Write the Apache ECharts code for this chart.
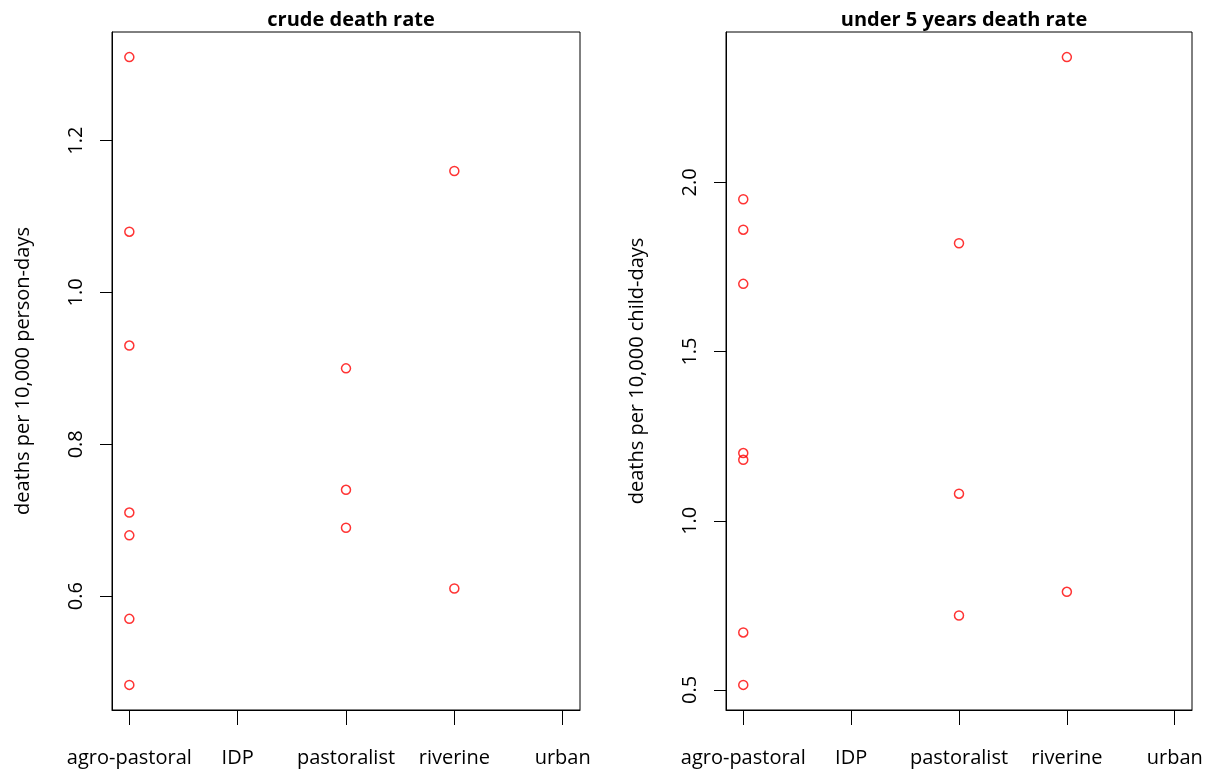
<!DOCTYPE html>
<html>
<head>
<meta charset="utf-8">
<script src="https://cdn.jsdelivr.net/npm/echarts@6/dist/echarts.min.js"></script>
<style>
  html, body { margin: 0; padding: 0; background: #fff; }
  #chart { width: 1211px; height: 771px; }
</style>
</head>
<body>
<div id="chart"></div>
<script>
// categories on the x axis (positions 1..5)
const categories = ['agro-pastoral', 'IDP', 'pastoralist', 'riverine', 'urban'];

// crude death rate, [category index, value]
const crudeRate = [
  [1, 1.31], [1, 1.08], [1, 0.93], [1, 0.71], [1, 0.68], [1, 0.57], [1, 0.483],
  [3, 0.90], [3, 0.74], [3, 0.69],
  [4, 1.16], [4, 0.61]
];
// under 5 years death rate
const under5Rate = [
  [1, 1.95], [1, 1.86], [1, 1.70], [1, 1.20], [1, 1.18], [1, 0.67], [1, 0.515],
  [3, 1.82], [3, 1.08], [3, 0.72],
  [4, 2.37], [4, 0.79]
];

const crudeTicks = [0.6, 0.8, 1.0, 1.2];
const under5Ticks = [0.5, 1.0, 1.5, 2.0];
const catTicks = [1, 2, 3, 4, 5];

const FONT = 'Open Sans';

// R style axis range: data range padded by 4% each side
function padRange(data) {
  let vals = data.map(function (d) { return d[1]; });
  let lo = Math.min.apply(null, vals), hi = Math.max.apply(null, vals);
  let pad = (hi - lo) * 0.04;
  return [lo - pad, hi + pad];
}

function makeX(idx) {
  return {
    gridIndex: idx,
    type: 'value',
    min: 0.84,
    max: 5.16,
    splitLine: { show: false },
    axisLine: { show: true, onZero: false, lineStyle: { color: '#000', width: 1 } },
    axisTick: { show: true, customValues: catTicks, length: 15, lineStyle: { color: '#000' } },
    axisLabel: {
      customValues: catTicks,
      margin: 38,
      color: '#000',
      fontFamily: FONT,
      fontSize: 20,
      formatter: function (v) { return categories[Math.round(v) - 1]; }
    }
  };
}

function makeY(idx, data, ticks, name) {
  let r = padRange(data);
  return {
    gridIndex: idx,
    type: 'value',
    min: r[0],
    max: r[1],
    name: name,
    nameLocation: 'middle',
    nameRotate: 90,
    nameGap: 79,
    nameTextStyle: { color: '#000', fontFamily: FONT, fontSize: 20 },
    splitLine: { show: false },
    axisLine: { show: true, onZero: false, lineStyle: { color: '#000', width: 1 } },
    axisTick: { show: true, customValues: ticks, length: 12, lineStyle: { color: '#000' } },
    axisLabel: {
      customValues: ticks,
      rotate: 90,
      margin: 26,
      color: '#000',
      fontFamily: FONT,
      fontSize: 20,
      formatter: function (v) { return v.toFixed(1); }
    }
  };
}

function makeSeries(idx, data) {
  return {
    type: 'scatter',
    xAxisIndex: idx,
    yAxisIndex: idx,
    data: data,
    symbol: 'circle',
    symbolSize: 9,
    itemStyle: { color: 'rgba(0,0,0,0)', borderColor: '#ff0000', borderWidth: 1.5 },
    emphasis: { disabled: true },
    silent: true
  };
}

let chart = echarts.init(document.getElementById('chart'), null, { renderer: 'canvas' });
let option = {
  backgroundColor: '#fff',
  animation: false,
  title: [
    {
      text: 'crude death rate',
      left: 346, top: 5, textAlign: 'center',
      textStyle: { fontFamily: FONT, fontSize: 20, fontWeight: 'bold', color: '#000' }
    },
    {
      text: 'under 5 years death rate',
      left: 959, top: 5, textAlign: 'center',
      textStyle: { fontFamily: FONT, fontSize: 20, fontWeight: 'bold', color: '#000' }
    }
  ],
  grid: [
    { left: 112, top: 32, width: 468, height: 678, show: true, borderColor: '#000', borderWidth: 1, backgroundColor: 'transparent' },
    { left: 726, top: 32, width: 466, height: 678, show: true, borderColor: '#000', borderWidth: 1, backgroundColor: 'transparent' }
  ],
  xAxis: [makeX(0), makeX(1)],
  yAxis: [
    makeY(0, crudeRate, crudeTicks, 'deaths per 10,000 person-days'),
    makeY(1, under5Rate, under5Ticks, 'deaths per 10,000 child-days')
  ],
  series: [makeSeries(0, crudeRate), makeSeries(1, under5Rate)]
};
chart.setOption(option);
</script>
</body>
</html>
